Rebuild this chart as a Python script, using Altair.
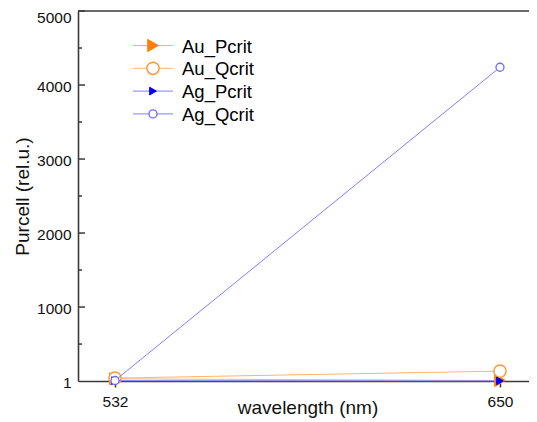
import altair as alt
import pandas as pd

wavelengths = [532, 650]
series_names = ["Au_Pcrit", "Au_Qcrit", "Ag_Pcrit", "Ag_Qcrit"]
au_pcrit = [30, 8]
au_qcrit = [40, 135]
ag_pcrit = [5, 3]
ag_qcrit = [8, 4240]
y_tick_values = [1, 1000, 2000, 3000, 4000, 5000]
y_major_inner = [1000, 2000, 3000, 4000, 5000]
y_minor_inner = [500, 1500, 2500, 3500, 4500]

values = {"Au_Pcrit": au_pcrit, "Au_Qcrit": au_qcrit, "Ag_Pcrit": ag_pcrit, "Ag_Qcrit": ag_qcrit}

styles = {
    "Au_Pcrit": dict(line="#FFB56B", shape="triangle-right", fill="#FF8000", stroke="#FF8000", size=150, sw=1),
    "Au_Qcrit": dict(line="#FFB56B", shape="circle", fill="white", stroke="#FF9A33", size=150, sw=1.5),
    "Ag_Pcrit": dict(line="#7F7FFF", shape="triangle-right", fill="#0000FF", stroke="#0000FF", size=60, sw=1),
    "Ag_Qcrit": dict(line="#7F7FFF", shape="circle", fill="white", stroke="#6A6AFF", size=64, sw=1.3),
}

W, H = 451, 370
FONT = "Liberation Sans"

xscale = alt.Scale(domain=[520.66, 658.89], nice=False, zero=False)
yscale = alt.Scale(domain=[1, 5000], nice=False, zero=False)

xaxis = alt.Axis(values=wavelengths, title="wavelength (nm)", format="d",
                 tickSize=6, labelPadding=7, grid=False,
                 titleBaseline="alphabetic", titleY=32, titleX=W / 2 + 4)
yaxis = alt.Axis(values=y_tick_values, title="Purcell (rel.u.)", format="d",
                 tickSize=0, labelPadding=7, grid=False,
                 labelOffset={"condition": {"test": "datum.value == 5000", "value": 6}, "value": 1},
                 titleBaseline="alphabetic", titleX=-50, titleY=H / 2, titleAngle=-90)

layers = []
for s in series_names:
    df = pd.DataFrame({"wavelength": wavelengths, "value": values[s], "series": s})
    st = styles[s]
    base = alt.Chart(df).encode(
        x=alt.X("wavelength:Q", scale=xscale, axis=xaxis),
        y=alt.Y("value:Q", scale=yscale, axis=yaxis))
    layers.append(base.mark_line(color=st["line"], strokeWidth=1))
    layers.append(base.mark_point(shape=st["shape"], fill=st["fill"], stroke=st["stroke"],
                                  size=st["size"], filled=False, strokeWidth=st["sw"], opacity=1))

# inward ticks on y axis
major_df = pd.DataFrame({"value": y_major_inner})
minor_df = pd.DataFrame({"value": y_minor_inner})
layers.append(alt.Chart(major_df).mark_rule(color="#3a3a3a", strokeWidth=1.5).encode(
    y=alt.Y("value:Q", scale=yscale, axis=yaxis), x=alt.value(0), x2=alt.value(7)))
layers.append(alt.Chart(minor_df).mark_rule(color="#3a3a3a", strokeWidth=1.5).encode(
    y=alt.Y("value:Q", scale=yscale, axis=yaxis), x=alt.value(0), x2=alt.value(4)))

# top border
layers.append(alt.Chart(pd.DataFrame({"a": [0]})).mark_rule(color="#3a3a3a", strokeWidth=1.6).encode(
    y=alt.value(0), x=alt.value(0), x2=alt.value(W)))

# legend
legend_df = pd.DataFrame({"series": series_names, "idx": list(range(len(series_names)))})
for i, s in enumerate(series_names):
    st = styles[s]
    row = alt.Chart(legend_df).transform_filter(alt.datum.series == s).transform_calculate(
        ly="34.5 + 22.8 * datum.idx")
    ly = alt.Y("ly:Q", scale=None)
    layers.append(row.mark_rule(color=st["line"], strokeWidth=1).encode(
        y=ly, x=alt.value(55), x2=alt.value(95)))
    layers.append(row.mark_point(shape=st["shape"], fill=st["fill"], stroke=st["stroke"],
                                 size=st["size"], filled=False, strokeWidth=st["sw"], opacity=1).encode(
        y=ly, x=alt.value(75)))
    layers.append(row.mark_text(align="left", baseline="middle", font=FONT, fontSize=18.5,
                                color="black", dy=1).encode(
        y=ly, x=alt.value(104), text="series:N"))

chart = alt.layer(*layers).properties(
    width=W, height=H,
    autosize=alt.AutoSizeParams(type="none"),
    padding={"left": 70, "top": 3, "right": 0, "bottom": 37},
).configure_view(stroke=None).configure_axis(
    labelFont=FONT, titleFont=FONT, labelFontSize=15.5, titleFontSize=19,
    titleFontWeight="normal", labelColor="#111111", titleColor="#111111",
    domainColor="#3a3a3a", domainWidth=1.6, tickColor="#3a3a3a", tickWidth=1.5,
)

chart.save("out.html", embed_options={"renderer": "svg", "actions": False})
